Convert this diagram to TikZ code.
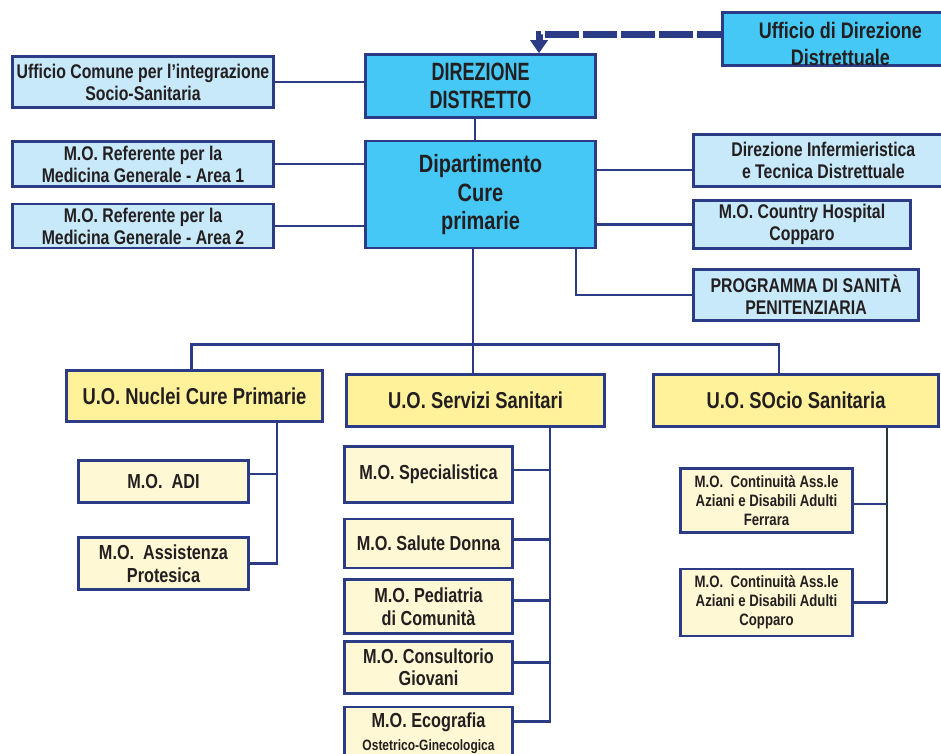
\documentclass[tikz,border=0pt]{standalone}
\usepackage{fontspec}
\setmainfont{Liberation Sans}[FakeStretch=0.8]
\newfontfamily\narrowfont{Liberation Sans}[FakeStretch=0.72]
\usetikzlibrary{arrows.meta, positioning, calc}
\definecolor{cDirFill}{RGB}{69, 200, 245}
\definecolor{cStaffFill}{RGB}{200, 233, 249}
\definecolor{cUoFill}{RGB}{255, 242, 155}
\definecolor{cMoFill}{RGB}{255, 248, 212}
\definecolor{cBoxDraw}{RGB}{43, 59, 134}
\definecolor{cText}{RGB}{35, 31, 32}
\definecolor{cDarkLine}{RGB}{38, 56, 52}
\tikzset{
    font=\bfseries,
    % base box
    block/.style={
        rectangle, draw=cBoxDraw, line width=2.6pt,
        align=center, inner sep=0pt, text=cText
    },
    % box kinds
    dirLayer/.style={block, fill=cDirFill, font=\fontsize{25}{28.5}\selectfont\bfseries},
    staffLayer/.style={block, fill=cStaffFill, font=\fontsize{19.8}{22}\selectfont\bfseries},
    uoLayer/.style={block, fill=cUoFill, font=\fontsize{23}{26}\selectfont\bfseries},
    moLayer/.style={block, fill=cMoFill, font=\fontsize{20.3}{22.5}\selectfont\bfseries},
    contLayer/.style={moLayer, font=\fontsize{16.5}{19}\selectfont\bfseries},
    conn/.style={draw=cBoxDraw, line width=2.6pt},
    dashConn/.style={draw=cBoxDraw, line width=7pt, dash pattern=on 34pt off 4pt, dash phase=10pt,
        -{Triangle[width=17pt, length=13pt]}}
}

\begin{document}
\begin{tikzpicture}[x=1pt, y=-1pt]
	\useasboundingbox (0,0) rectangle (941,753);

	% ==========================================
	% 1. Direzione
	% ==========================================
	\node [dirLayer, font=\fontsize{25}{28.5}\narrowfont\bfseries, minimum width=230pt, minimum height=63pt] (dirDistretto) at (480.5,86) {
		DIREZIONE\\DISTRETTO
	};

	\node [dirLayer, font=\fontsize{22.5}{27}\selectfont\bfseries, minimum width=236pt, minimum height=51pt, anchor=west] (uffDirezione) at (721,39) {
		\rule{0pt}{26pt}Ufficio di Direzione\\Distrettuale
	};

	\node [staffLayer, minimum width=261pt, minimum height=51pt] (uffComune) at (143,82) {
		Ufficio Comune per l’integrazione\\Socio-Sanitaria
	};

	% ==========================================
	% 2. Dipartimento
	% ==========================================
	\node [dirLayer, below=21pt of dirDistretto, minimum width=230pt, minimum height=107pt] (dipCure) {
		Dipartimento\\Cure\\primarie
	};

	% --- left ---
	\node [staffLayer, minimum width=261pt, minimum height=45pt] (refArea1) at (143,164) {
		M.O. Referente per la\\Medicina Generale - Area 1
	};
	\node [staffLayer, below=15pt of refArea1, minimum width=261pt, minimum height=44pt] (refArea2) {
		M.O. Referente per la\\Medicina Generale - Area 2
	};

	% --- right ---
	\node [staffLayer, minimum width=260pt, minimum height=52pt, anchor=west] (dirInferm) at (692,160.5) {
		Direzione Infermieristica\\e Tecnica Distrettuale
	};
	\node [staffLayer, minimum width=217pt, minimum height=48pt] (countryHosp) at (802,224.5) {
		M.O. Country Hospital\\Copparo
	};
	\node [staffLayer, minimum width=225pt, minimum height=51pt] (progSanita) at (806,295) {
		PROGRAMMA DI SANITÀ\\PENITENZIARIA
	};

	% ==========================================
	% 3. Unita operative
	% ==========================================
	\node [uoLayer, minimum width=256pt, minimum height=51pt] (uoNuclei) at (194.5,396) {U.O. Nuclei Cure Primarie};
	\node [uoLayer, minimum width=258pt, minimum height=52pt] (uoServizi) at (475.5,400.5) {U.O. Servizi Sanitari};
	\node [uoLayer, minimum width=285pt, minimum height=52pt] (uoSocio) at (796,400.5) {U.O. SOcio Sanitaria};

	% --- Nuclei ---
	\node [moLayer, minimum width=170pt, minimum height=42pt] (moAdi) at (163.5,481.5) {M.O.~~ADI};
	\node [moLayer, minimum width=170pt, minimum height=52pt] (moProtesica) at (163.5,563.5) {
		M.O.~~Assistenza\\Protesica
	};

	% --- Servizi ---
	\node [moLayer, minimum width=168pt, minimum height=56pt] (moSpec) at (428.5,474.5) {M.O. Specialistica};
	\node [moLayer, below=14pt of moSpec, minimum width=168pt, minimum height=49pt] (moDonna) {M.O. Salute Donna};
	\node [moLayer, below=9pt of moDonna, minimum width=168pt, minimum height=54pt] (moPediatria) {
		M.O. Pediatria\\di Comunità
	};
	\node [moLayer, below=5pt of moPediatria, minimum width=168pt, minimum height=52pt] (moConsultorio) {
		M.O. Consultorio\\Giovani
	};
	\node [moLayer, below=11pt of moConsultorio, minimum width=168pt, minimum height=53pt] (moEcografia) {
		M.O. Ecografia\\\fontsize{15}{19}\selectfont Ostetrico-Ginecologica
	};

	% --- Socio ---
	\node [contLayer, minimum width=172pt, minimum height=64pt] (moFerrara) at (766.5,500.5) {
		M.O.~~Continuità Ass.le\\Aziani e Disabili Adulti\\Ferrara
	};
	\node [contLayer, below=34pt of moFerrara, minimum width=172pt, minimum height=67pt] (moCopparo) {
		M.O.~~Continuità Ass.le\\Aziani e Disabili Adulti\\Copparo
	};

	% ==========================================
	% connectors
	% ==========================================
	\draw [dashConn] ($(uffDirezione.west)+(0,-5)$) -| ($(dirDistretto.north)+(58.5,0)$);
	\draw [conn] ($(dirDistretto.south)+(-5.5,0)$) -- ($(dipCure.north)+(-5.5,0)$);
	\draw [conn] (uffComune.east) -- (uffComune.east -| dirDistretto.west);

	\draw [conn] (refArea1.east) -- (refArea1.east -| dipCure.west);
	\draw [conn] (refArea2.east) -- (refArea2.east -| dipCure.west);

	\coordinate (infY) at ([yshift=-9.5pt]dirInferm.west);
	\draw [conn] (infY) -- (infY -| dipCure.east);
	\draw [conn] (countryHosp.west) -- (countryHosp.west -| dipCure.east);
	\draw [conn] ($(dipCure.south)+(95.5,0)$) |- (progSanita.west);

	% --- bus to U.O. ---
	\coordinate (busMid) at ($(dipCure.south)+(-7.5,95)$);
	\coordinate (busL) at ($(uoNuclei.north)+(-3,0)$);
	\coordinate (busR) at ($(uoSocio.north)+(-17,0)$);
	\draw [conn] ($(dipCure.south)+(-7.5,0)$) -- (busMid);
	\draw [conn] (busL) |- (busMid) -| (busR);
	\draw [conn] (busMid) -- (busMid |- uoServizi.north);

	% --- Nuclei tree ---
	\coordinate (nucBus) at ($(uoNuclei.south)+(82.5,0)$);
	\coordinate (adiY) at ([yshift=7.5pt]moAdi.east);
	\draw [conn] (nucBus) |- (moProtesica.east);
	\draw [conn] (adiY) -- (adiY -| nucBus);

	% --- Servizi tree ---
	\coordinate (servBus) at ($(uoServizi.south)+(74.5,0)$);
	\coordinate (specY) at ([yshift=4.5pt]moSpec.east);
	\coordinate (donnaY) at ([yshift=4pt]moDonna.east);
	\coordinate (pedY) at ([yshift=6pt]moPediatria.east);
	\coordinate (consY) at ([yshift=5pt]moConsultorio.east);
	\coordinate (ecoY) at ([yshift=12pt]moEcografia.east);
	\draw [conn] (servBus) |- (ecoY);
	\draw [conn] (specY) -- (specY -| servBus);
	\draw [conn] (donnaY) -- (donnaY -| servBus);
	\draw [conn] (pedY) -- (pedY -| servBus);
	\draw [conn] (consY) -- (consY -| servBus);

	% --- Socio tree ---
	\coordinate (socBus) at ($(uoSocio.south)+(91,0)$);
	\coordinate (ferY) at ([yshift=-3.5pt]moFerrara.east);
	\draw [conn, draw=cDarkLine, line width=2.2pt] (socBus) -- (socBus |- moCopparo.east);
	\draw [conn] (ferY) -- (ferY -| socBus);
	\draw [conn] (moCopparo.east) -- (moCopparo.east -| socBus);

\end{tikzpicture}
\end{document}
